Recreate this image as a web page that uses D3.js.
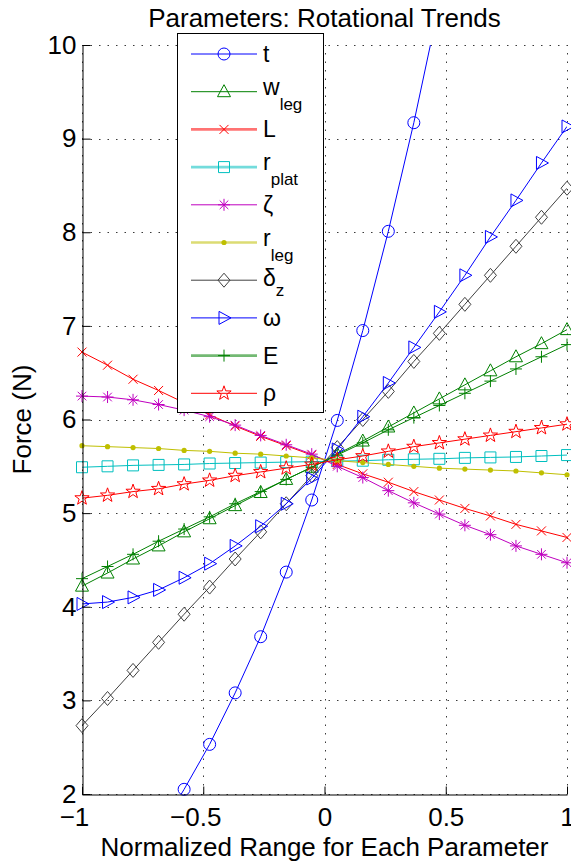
<!DOCTYPE html>
<html>
<head>
<meta charset="utf-8">
<script src="https://cdn.jsdelivr.net/npm/d3@7"></script>
<style>
  html, body { margin: 0; padding: 0; background: #fff; }
  svg { display: block; font-family: "Liberation Sans", Arial, Helvetica, sans-serif; }
</style>
</head>
<body>
<svg id="chart" width="571" height="861"></svg>
<script>
// Normalized parameter positions (20 evenly spaced samples across [-1, 1])
const xValues = [-1, -0.8947, -0.7895, -0.6842, -0.5789, -0.4737, -0.3684, -0.2632, -0.1579, -0.0526,
                 0.0526, 0.1579, 0.2632, 0.3684, 0.4737, 0.5789, 0.6842, 0.7895, 0.8947, 1];

// Force (N) for each parameter sweep
const tForce     = [null, null, null, 1.60, 2.05, 2.53, 3.08, 3.68, 4.37, 5.14, 5.99, 6.95, 8.01, 9.17, 10.45, null, null, null, null, null];
const wLegForce  = [4.22, 4.36, 4.51, 4.65, 4.80, 4.94, 5.08, 5.22, 5.36, 5.49, 5.63, 5.77, 5.92, 6.07, 6.22, 6.37, 6.52, 6.67, 6.81, 6.96];
const lForce     = [6.72, 6.58, 6.43, 6.31, 6.18, 6.05, 5.93, 5.82, 5.72, 5.62, 5.52, 5.42, 5.33, 5.23, 5.14, 5.05, 4.97, 4.88, 4.81, 4.74];
const rPlatForce = [5.49, 5.50, 5.51, 5.515, 5.52, 5.53, 5.535, 5.54, 5.545, 5.55, 5.555, 5.56, 5.57, 5.575, 5.58, 5.59, 5.595, 5.60, 5.61, 5.62];
const zetaForce  = [6.25, 6.24, 6.21, 6.16, 6.10, 6.03, 5.94, 5.83, 5.73, 5.63, 5.50, 5.38, 5.24, 5.11, 4.99, 4.87, 4.77, 4.65, 4.56, 4.47];
const rLegForce  = [5.72, 5.71, 5.70, 5.69, 5.67, 5.66, 5.64, 5.63, 5.61, 5.59, 5.56, 5.54, 5.52, 5.50, 5.48, 5.47, 5.46, 5.45, 5.43, 5.41];
const deltaForce = [2.73, 3.02, 3.32, 3.62, 3.92, 4.21, 4.51, 4.80, 5.10, 5.40, 5.70, 6.00, 6.30, 6.62, 6.92, 7.23, 7.54, 7.85, 8.16, 8.47];
const omegaForce = [4.03, 4.05, 4.10, 4.18, 4.31, 4.46, 4.65, 4.86, 5.10, 5.37, 5.68, 6.03, 6.39, 6.77, 7.15, 7.54, 7.95, 8.34, 8.74, 9.13];
const eForce     = [4.30, 4.43, 4.56, 4.70, 4.83, 4.96, 5.10, 5.23, 5.36, 5.49, 5.62, 5.75, 5.89, 6.02, 6.15, 6.28, 6.41, 6.54, 6.67, 6.80];
const rhoForce   = [5.16, 5.19, 5.23, 5.26, 5.31, 5.35, 5.40, 5.44, 5.48, 5.52, 5.57, 5.61, 5.66, 5.71, 5.75, 5.79, 5.83, 5.87, 5.91, 5.95];

// Axis ticks
const xTicks = [-1, -0.5, 0, 0.5, 1];
const xTickLabels = ["\u22121", "\u22120.5", "0", "0.5", "1"];
const yTicks = [2, 3, 4, 5, 6, 7, 8, 9, 10];
const yTickLabels = ["2", "3", "4", "5", "6", "7", "8", "9", "10"];

// Legend names (main text + subscript)
const seriesNames = [
  { main: "t" }, { main: "w", sub: "leg" }, { main: "L" }, { main: "r", sub: "plat" }, { main: "\u03B6" },
  { main: "r", sub: "leg" }, { main: "\u03B4", sub: "z" }, { main: "\u03C9" }, { main: "E" }, { main: "\u03C1" }
];
const seriesValues = [tForce, wLegForce, lForce, rPlatForce, zetaForce, rLegForce, deltaForce, omegaForce, eForce, rhoForce];
const seriesColors = ["#0000ff", "#008000", "#ff0000", "#00bfbf", "#bf00bf", "#bfbf00", "#404040", "#0000ff", "#008000", "#ff0000"];
const seriesMarkers = ["o", "^", "x", "s", "*", ".", "d", ">", "+", "p"];

const series = seriesNames.map((n, i) => ({
  name: n, values: seriesValues[i], color: seriesColors[i], marker: seriesMarkers[i],
  soft: ["x", "s", ".", "+"].includes(seriesMarkers[i])
}));

const svg = d3.select("#chart");
const W = 571, H = 861;
const plot = { left: 82, right: 567, top: 45, bottom: 794 };

const x = d3.scaleLinear().domain([-1, 1]).range([plot.left, plot.right]);
const y = d3.scaleLinear().domain([2, 10]).range([plot.bottom, plot.top]);

svg.append("rect").attr("width", W).attr("height", H).attr("fill", "#fff");

svg.append("defs").append("clipPath").attr("id", "plotClip")
  .append("rect").attr("x", plot.left).attr("y", plot.top)
  .attr("width", plot.right - plot.left).attr("height", plot.bottom - plot.top);

// dotted grid
const grid = svg.append("g").attr("stroke", "#3a3a3a").attr("stroke-width", 1)
  .attr("stroke-dasharray", "1.5,7");
grid.selectAll("line.v").data(xTicks).join("line").attr("class", "v")
  .attr("x1", d => Math.round(x(d)) + 0.5).attr("x2", d => Math.round(x(d)) + 0.5)
  .attr("y1", plot.bottom).attr("y2", plot.top);
grid.selectAll("line.h").data(yTicks).join("line").attr("class", "h")
  .attr("y1", d => Math.round(y(d)) + 0.5).attr("y2", d => Math.round(y(d)) + 0.5)
  .attr("x1", plot.left).attr("x2", plot.right);

// marker glyphs
function starPath(ro, ri) {
  let p = "";
  for (let k = 0; k < 10; k++) {
    const r = k % 2 === 0 ? ro : ri;
    const a = -Math.PI / 2 + k * Math.PI / 5;
    p += (k === 0 ? "M" : "L") + (r * Math.cos(a)).toFixed(2) + "," + (r * Math.sin(a)).toFixed(2);
  }
  return p + "Z";
}
const markerPaths = {
  "^": "M0,-7L6.5,5H-6.5Z",
  ">": "M7,0L-5,-6.5V6.5Z",
  "x": "M-4.5,-4.5L4.5,4.5M-4.5,4.5L4.5,-4.5",
  "s": "M-5.5,-5.5H5.5V5.5H-5.5Z",
  "*": "M-6,0H6M0,-6V6M-4.3,-4.3L4.3,4.3M-4.3,4.3L4.3,-4.3",
  "d": "M0,-7L6,0L0,7L-6,0Z",
  "+": "M-6,0H6M0,-6V6",
  "p": starPath(7.5, 3)
};
function drawMarker(g, type, color, cx, cy) {
  if (type === "o") {
    g.append("circle").attr("cx", cx).attr("cy", cy).attr("r", 6)
      .attr("fill", "none").attr("stroke", color).attr("stroke-width", 1);
  } else if (type === ".") {
    g.append("circle").attr("cx", cx).attr("cy", cy).attr("r", 2.6)
      .attr("fill", color).attr("stroke", "none");
  } else {
    g.append("path").attr("d", markerPaths[type]).attr("transform", `translate(${cx},${cy})`)
      .attr("fill", "none").attr("stroke", color).attr("stroke-width", 1);
  }
}

// series lines and markers
const line = d3.line().defined(d => d[1] != null).x(d => x(d[0])).y(d => y(d[1]));
const plotG = svg.append("g");
series.forEach(s => {
  const pts = xValues.map((xv, i) => [xv, s.values[i]]);
  plotG.append("path").datum(pts).attr("d", line).attr("clip-path", "url(#plotClip)")
    .attr("fill", "none").attr("stroke", s.color).attr("stroke-width", 1);
  const mg = plotG.append("g");
  pts.filter(p => p[1] != null && p[1] >= 2 && p[1] <= 10)
    .forEach(p => drawMarker(mg, s.marker, s.color, x(p[0]), y(p[1])));
});

// axes (left and bottom only, ticks pointing inward)
const yAxis = d3.axisLeft(y).tickValues(yTicks).tickFormat((d, i) => yTickLabels[i])
  .tickSizeInner(-8).tickSizeOuter(0).tickPadding(6);
const xAxis = d3.axisBottom(x).tickValues(xTicks).tickFormat((d, i) => xTickLabels[i])
  .tickSizeInner(-8).tickSizeOuter(0).tickPadding(13);

const yG = svg.append("g").attr("transform", `translate(${plot.left + 0.5},0)`).call(yAxis);
const xG = svg.append("g").attr("transform", `translate(0,${plot.bottom + 0.5})`).call(xAxis);
[yG, xG].forEach(g => {
  g.select(".domain").attr("stroke", "#000").attr("stroke-width", 1);
  g.selectAll(".tick line").attr("stroke", "#000").attr("stroke-width", 1);
  g.selectAll(".tick text").attr("fill", "#000").attr("font-size", 26)
    .attr("font-family", "'Liberation Sans', Arial, sans-serif");
});
xG.selectAll(".tick text").attr("x", d => d < 0 ? -8 : 0);

// titles
svg.append("text").attr("x", (plot.left + plot.right) / 2).attr("y", 27)
  .attr("text-anchor", "middle").attr("font-size", 26).attr("fill", "#000")
  .text("Parameters: Rotational Trends");
svg.append("text").attr("x", (plot.left + plot.right) / 2).attr("y", 856)
  .attr("text-anchor", "middle").attr("font-size", 26).attr("fill", "#000")
  .text("Normalized Range for Each Parameter");
svg.append("text").attr("transform", `translate(31,${(plot.top + plot.bottom) / 2}) rotate(-90)`)
  .attr("text-anchor", "middle").attr("font-size", 26).attr("fill", "#000")
  .text("Force (N)");

// legend
const leg = svg.append("g");
leg.append("rect").attr("x", 177.5).attr("y", 33.5).attr("width", 146).attr("height", 379)
  .attr("fill", "#fff").attr("stroke", "#000").attr("stroke-width", 1);
const rowStep = 37.7, rowTop = 54;
const subShift = { "w": [3, 15], "r": [3, 15], "\u03B4": [6, 10] };
series.forEach((s, i) => {
  const cy = rowTop + i * rowStep;
  leg.append("line").attr("x1", 191).attr("x2", 257).attr("y1", cy).attr("y2", cy)
    .attr("stroke", s.color).attr("stroke-width", s.soft ? 2.6 : 1)
    .attr("stroke-opacity", s.soft ? 0.55 : 1);
  drawMarker(leg, s.marker, s.color, 224, cy);
  const txt = leg.append("text").attr("x", 263).attr("fill", "#000").attr("font-size", 23);
  if (s.name.sub) {
    const sh = subShift[s.name.main];
    txt.attr("y", cy + sh[0]);
    txt.append("tspan").text(s.name.main);
    txt.append("tspan").attr("font-size", 17).attr("dy", sh[1]).text(s.name.sub);
  } else {
    txt.attr("y", cy + 8).text(s.name.main);
  }
});
</script>
</body>
</html>
